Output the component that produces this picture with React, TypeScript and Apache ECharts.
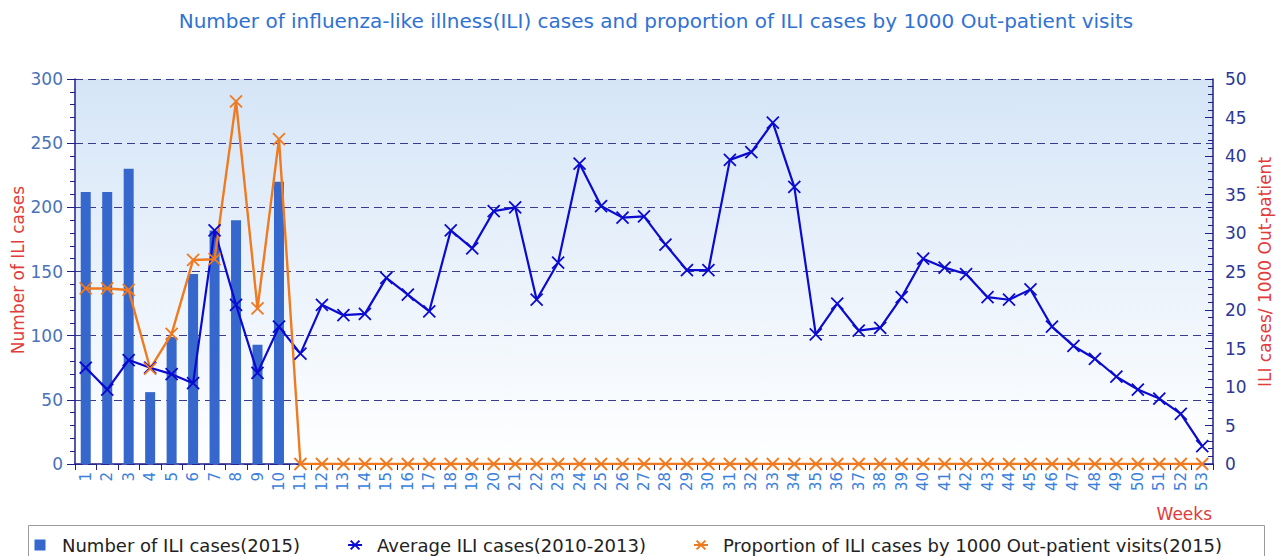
import React, { useEffect, useRef } from "react";
import * as echarts from "echarts";

const TITLE =
  "Number of influenza-like illness(ILI) cases and proportion of ILI cases by 1000 Out-patient visits";

const weeks = [
  "1", "2", "3", "4", "5", "6", "7", "8", "9", "10",
  "11", "12", "13", "14", "15", "16", "17", "18", "19", "20",
  "21", "22", "23", "24", "25", "26", "27", "28", "29", "30",
  "31", "32", "33", "34", "35", "36", "37", "38", "39", "40",
  "41", "42", "43", "44", "45", "46", "47", "48", "49", "50",
  "51", "52", "53",
];

// Number of ILI cases (2015) — left axis
const cases2015 = [
  212, 212, 230, 56, 99, 148, 182, 190, 93, 220,
  0, 0, 0, 0, 0, 0, 0, 0, 0, 0,
  0, 0, 0, 0, 0, 0, 0, 0, 0, 0,
  0, 0, 0, 0, 0, 0, 0, 0, 0, 0,
  0, 0, 0, 0, 0, 0, 0, 0, 0, 0,
  0, 0, 0,
];

// Average ILI cases (2010-2013) — left axis
const avgCases = [
  75, 58, 81, 75, 70, 63, 182, 124, 71, 107,
  86, 124, 116, 117, 145, 132, 119, 182, 168, 197,
  200, 128, 157, 234, 201, 192, 193, 171, 151, 151,
  237, 243, 266, 216, 101, 125, 104, 106, 130, 160,
  153, 148, 130, 128, 136, 107, 92, 82, 68, 58,
  51, 39, 14,
];

// Proportion of ILI cases by 1000 out-patient visits (2015) — right axis
const proportion2015 = [
  22.8, 22.8, 22.6, 12.4, 16.9, 26.5, 26.6, 47.1, 20.2, 42.2,
  0, 0, 0, 0, 0, 0, 0, 0, 0, 0,
  0, 0, 0, 0, 0, 0, 0, 0, 0, 0,
  0, 0, 0, 0, 0, 0, 0, 0, 0, 0,
  0, 0, 0, 0, 0, 0, 0, 0, 0, 0,
  0, 0, 0,
];

const SERIES_NAMES = [
  "Number of ILI cases(2015)",
  "Average ILI cases(2010-2013)",
  "Proportion of ILI cases by 1000 Out-patient visits(2015)",
];

const LEFT_NAME = "Number of ILI cases";
const RIGHT_NAME = "ILI cases/ 1000 Out-patient";
const X_NAME = "Weeks";

const FONT = "DejaVu Sans";
const NAVY = "#1f1f8c";
const BLUE_LINE = "#0a0ad0";
const ORANGE = "#f07a20";
const BAR = "#3567cd";
const RED = "#e23b3b";
const CROSS = "path://M0,0L10,10M10,0L0,10";

export default function App() {
  const ref = useRef<HTMLDivElement>(null);

  useEffect(() => {
    if (!ref.current) return;
    const chart = echarts.init(ref.current, null, { renderer: "svg" });
    const option = {
      animation: false,
      backgroundColor: "#ffffff",
      textStyle: { fontFamily: FONT },
      title: {
        text: TITLE,
        left: 651,
        textAlign: "center",
        top: 6,
        textStyle: { color: "#2f72d2", fontSize: 20, fontWeight: "normal", fontFamily: FONT },
      },
      grid: {
        left: 75,
        right: 67,
        top: 79,
        bottom: 92,
        show: true,
        borderWidth: 0,
        backgroundColor: new echarts.graphic.LinearGradient(0, 0, 0, 1, [
          { offset: 0, color: "#d5e5f7" },
          { offset: 1, color: "#ffffff" },
        ]),
      },
      legend: {
        left: 34.5,
        top: 536,
        padding: 0,
        itemWidth: 14,
        itemHeight: 11,
        itemGap: 47,
        textStyle: { fontSize: 18, color: "#222222", fontFamily: FONT, padding: [0, 0, 0, 10] },
        data: [
          { name: SERIES_NAMES[0], icon: "path://M0,0H10V10H0Z" },
          { name: SERIES_NAMES[1] },
          { name: SERIES_NAMES[2] },
        ],
      },
      xAxis: {
        type: "category",
        data: weeks,
        boundaryGap: true,
        axisLine: { lineStyle: { color: NAVY, width: 1.5 } },
        axisTick: { show: true, length: 6, lineStyle: { color: NAVY } },
        axisLabel: { rotate: 90, interval: 0, color: "#3b7fdc", fontSize: 15, margin: 8, fontFamily: FONT },
        splitLine: { show: false },
      },
      yAxis: [
        {
          type: "value",
          min: 0,
          max: 300,
          interval: 50,
          position: "left",
          axisLine: { show: true, lineStyle: { color: NAVY, width: 1.5 } },
          axisTick: { show: true, length: 8, lineStyle: { color: NAVY } },
          minorTick: { show: true, splitNumber: 5, length: 5, lineStyle: { color: NAVY } },
          axisLabel: { color: "#4a72b8", fontSize: 17, margin: 12, fontFamily: FONT },
          splitLine: { show: true, lineStyle: { type: [8, 5], color: "#3a3a8e", width: 1.2 } },
        },
        {
          type: "value",
          min: 0,
          max: 50,
          interval: 5,
          position: "right",
          axisLine: { show: true, lineStyle: { color: NAVY, width: 1.5 } },
          axisTick: { show: true, inside: true, length: 8, lineStyle: { color: NAVY } },
          minorTick: { show: true, splitNumber: 5, length: 5, lineStyle: { color: NAVY } },
          axisLabel: { color: "#2d3796", fontSize: 17, margin: 12, fontFamily: FONT },
          splitLine: { show: false },
        },
      ],
      graphic: [
        {
          type: "text",
          x: 18,
          y: 270,
          rotation: Math.PI / 2,
          style: { text: LEFT_NAME, fill: RED, font: `17px "${FONT}"`, align: "center", verticalAlign: "middle" },
        },
        {
          type: "text",
          x: 1265,
          y: 272,
          rotation: Math.PI / 2,
          style: { text: RIGHT_NAME, fill: RED, font: `17px "${FONT}"`, align: "center", verticalAlign: "middle" },
        },
        {
          type: "text",
          x: 1212,
          y: 514,
          style: { text: X_NAME, fill: RED, font: `17px "${FONT}"`, align: "right", verticalAlign: "middle" },
        },
        {
          type: "rect",
          shape: { x: 28.5, y: 525.5, width: 1236, height: 40 },
          style: { fill: "none", stroke: "#9a9a9a", lineWidth: 1 },
        },
      ],
      series: [
        {
          name: SERIES_NAMES[0],
          type: "bar",
          yAxisIndex: 0,
          data: cases2015,
          barWidth: 10,
          itemStyle: { color: BAR },
        },
        {
          name: SERIES_NAMES[1],
          type: "line",
          yAxisIndex: 0,
          data: avgCases,
          symbol: CROSS,
          symbolSize: 12,
          lineStyle: { color: BLUE_LINE, width: 2.2 },
          itemStyle: { color: BLUE_LINE, borderColor: BLUE_LINE, borderWidth: 1.8 },
        },
        {
          name: SERIES_NAMES[2],
          type: "line",
          yAxisIndex: 1,
          data: proportion2015,
          symbol: CROSS,
          symbolSize: 12,
          lineStyle: { color: ORANGE, width: 2.4 },
          itemStyle: { color: ORANGE, borderColor: ORANGE, borderWidth: 1.8 },
        },
      ],
    };
    chart.setOption(option);
    return () => chart.dispose();
  }, []);

  return (
    <div
      ref={ref}
      style={{ position: "fixed", left: 0, top: 0, width: 1280, height: 556 }}
    />
  );
}
